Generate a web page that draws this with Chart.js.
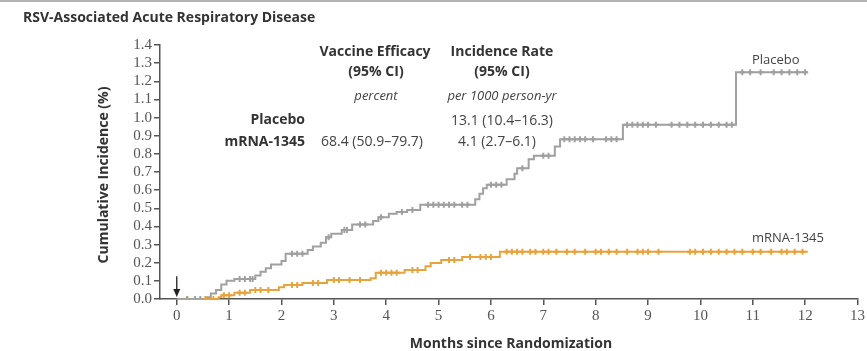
<!DOCTYPE html>
<html>
<head>
<meta charset="utf-8">
<script src="https://cdn.jsdelivr.net/npm/chart.js@4"></script>
<style>
  html, body { margin: 0; padding: 0; background: #fff; }
  #wrap { width: 867px; height: 351px; position: relative; }
</style>
</head>
<body>
<div id="wrap"><canvas id="km"></canvas></div>
<script>
/* === DATA === */
const xTicks = [0, 1, 2, 3, 4, 5, 6, 7, 8, 9, 10, 11, 12, 13];
const yTicks = [0, 0.1, 0.2, 0.3, 0.4, 0.5, 0.6, 0.7, 0.8, 0.9, 1.0, 1.1, 1.2, 1.3, 1.4];

// Kaplan-Meier style step points: month -> cumulative incidence (%)
const placeboMonths = [0, 0.55, 0.65, 0.75, 0.85, 0.95, 1.1, 1.5, 1.6, 1.7, 1.8, 2.0, 2.08, 2.5, 2.6, 2.75, 2.85, 2.95, 3.15, 3.35, 3.75, 3.85, 4.05, 4.2, 4.4, 4.65, 5.7, 5.78, 5.85, 5.92, 6.3, 6.45, 6.5, 6.72, 6.82, 7.22, 7.32, 8.52, 10.68, 12.05];
const placeboValues = [0, 0.01, 0.03, 0.05, 0.08, 0.10, 0.11, 0.13, 0.15, 0.17, 0.19, 0.21, 0.25, 0.27, 0.29, 0.31, 0.34, 0.36, 0.38, 0.41, 0.43, 0.45, 0.47, 0.48, 0.49, 0.52, 0.55, 0.58, 0.61, 0.63, 0.66, 0.69, 0.72, 0.77, 0.79, 0.84, 0.88, 0.96, 1.25, 1.25];

const vaccineMonths = [0, 0.8, 0.85, 1.1, 1.4, 1.95, 2.05, 2.4, 2.87, 3.7, 3.8, 4.35, 4.75, 4.85, 5.05, 5.45, 6.17, 12.05];
const vaccineValues = [0, 0.01, 0.02, 0.035, 0.05, 0.065, 0.077, 0.088, 0.105, 0.115, 0.145, 0.16, 0.18, 0.198, 0.215, 0.232, 0.26, 0.26];

// censoring marks (months)
const placeboCensor = [0.2, 0.35, 0.45, 1.2, 1.3, 1.4, 1.45, 2.2, 2.3, 2.4, 2.9, 3.2, 3.25, 3.5, 3.6, 3.9, 4.3, 4.5, 4.8, 4.9, 5.0, 5.1, 5.2, 5.3, 5.45, 5.55, 6.0, 6.1, 6.2, 6.6, 7.0, 7.1, 7.4, 7.5, 7.6, 7.7, 7.8, 7.95, 8.2, 8.3, 8.4, 8.6, 8.7, 8.8, 8.9, 9.0, 9.15, 9.45, 9.6, 9.75, 9.9, 10.05, 10.2, 10.35, 10.5, 10.6, 10.8, 10.95, 11.15, 11.4, 11.55, 11.7, 11.85, 12.0];
const vaccineCensor = [0.2, 0.55, 0.7, 0.9, 1.0, 1.2, 1.3, 1.5, 1.6, 1.75, 2.2, 2.3, 2.6, 2.7, 3.0, 3.1, 3.3, 3.5, 3.9, 4.0, 4.1, 4.2, 4.5, 4.6, 5.2, 5.3, 5.6, 5.8, 5.9, 6.0, 6.3, 6.4, 6.5, 6.6, 6.75, 6.85, 7.0, 7.1, 7.25, 7.45, 7.6, 7.8, 8.0, 8.1, 8.25, 8.4, 8.6, 8.8, 8.9, 9.0, 9.2, 9.8, 9.9, 10.05, 10.2, 10.35, 10.5, 10.65, 10.8, 11.0, 11.15, 11.35, 11.55, 11.65, 11.8, 11.95];

const GRAY = "#a0a0a0";
const ORANGE = "#e9a33c";
const AXIS = "#555";

/* === HELPERS === */
function toPoints(xs, ys) {
    return xs.map((x, i) => ({ x: x, y: ys[i] }));
}

// y of the step curve at month t (censor marks sit on the curve)
function stepValue(xs, ys, t) {
    let v = ys[0];
    for (let i = 0; i < xs.length; i++) {
        if (xs[i] <= t) v = ys[i];
    }
    return v;
}

function censorPoints(times, xs, ys) {
    return times.map(t => ({ x: t, y: stepValue(xs, ys, t) }));
}

/* === TEXT / DECORATION PLUGIN === */
const annotations = {
    id: "annotations",
    afterDraw(chart) {
        const ctx = chart.ctx;
        const xs = chart.scales.x;
        const ys = chart.scales.y;
        ctx.save();

        // thin rule at the very top
        ctx.fillStyle = "#b4b4b4";
        ctx.fillRect(0, 0, chart.width, 2);

        ctx.fillStyle = "#333";
        ctx.textBaseline = "middle";

        // title
        ctx.textAlign = "left";
        ctx.font = "bold 14px 'Open Sans'";
        ctx.fillText("RSV-Associated Acute Respiratory Disease", 23, 18);

        // column headers
        ctx.textAlign = "center";
        ctx.font = "bold 14px 'Open Sans'";
        ctx.fillText("Vaccine Efficacy", 375, 52);
        ctx.fillText("(95% CI)", 376, 72);
        ctx.fillText("Incidence Rate", 502, 52);
        ctx.fillText("(95% CI)", 502, 72);

        ctx.font = "italic 13px 'Open Sans'";
        ctx.fillStyle = "#444";
        ctx.fillText("percent", 376, 96);
        ctx.fillText("per 1000 person-yr", 502, 96);

        // row labels
        ctx.fillStyle = "#333";
        ctx.textAlign = "right";
        ctx.font = "bold 14px 'Open Sans'";
        ctx.fillText("Placebo", 305, 120);
        ctx.fillText("mRNA-1345", 305, 142);

        // values
        ctx.fillStyle = "#444";
        ctx.font = "14px 'Open Sans'";
        ctx.textAlign = "center";
        ctx.fillText("68.4 (50.9\u201379.7)", 372, 142);
        ctx.fillText("13.1 (10.4\u201316.3)", 502, 121);
        ctx.fillText("4.1 (2.7\u20136.1)", 497, 142);

        // curve labels
        ctx.font = "13px 'Open Sans'";
        ctx.textAlign = "left";
        ctx.fillText("Placebo", 752, 60);
        ctx.fillText("mRNA-1345", 752, 238);

        // axis titles
        ctx.fillStyle = "#333";
        ctx.font = "bold 14px 'Open Sans'";
        ctx.textAlign = "center";
        ctx.fillText("Months since Randomization", 511, 344);
        ctx.save();
        ctx.translate(104, 175);
        ctx.rotate(-Math.PI / 2);
        ctx.fillText("Cumulative Incidence (%)", 0, 0);
        ctx.restore();

        // randomization arrow at month 0
        const ax = xs.getPixelForValue(0);
        const top = ys.getPixelForValue(0.125);
        const tip = ys.getPixelForValue(0) - 2;
        ctx.strokeStyle = "#222";
        ctx.lineWidth = 1.3;
        ctx.beginPath();
        ctx.moveTo(ax, top);
        ctx.lineTo(ax, tip - 6);
        ctx.stroke();
        ctx.fillStyle = "#222";
        ctx.beginPath();
        ctx.moveTo(ax - 3.5, tip - 8);
        ctx.lineTo(ax + 3.5, tip - 8);
        ctx.lineTo(ax, tip);
        ctx.closePath();
        ctx.fill();

        ctx.restore();
    }
};

/* === CHART === */
const tickFont = { family: "'Liberation Serif'", size: 15 };

new Chart(document.getElementById("km"), {
    type: "line",
    data: {
        datasets: [
            {
                label: "Placebo censored",
                type: "scatter",
                data: censorPoints(placeboCensor, placeboMonths, placeboValues),
                pointStyle: "cross",
                pointRadius: 3,
                borderColor: GRAY,
                borderWidth: 2,
                showLine: false,
            },
            {
                label: "mRNA-1345 censored",
                type: "scatter",
                data: censorPoints(vaccineCensor, vaccineMonths, vaccineValues),
                pointStyle: "cross",
                pointRadius: 3,
                borderColor: ORANGE,
                borderWidth: 2,
                showLine: false,
            },
            {
                label: "Placebo",
                data: toPoints(placeboMonths, placeboValues),
                stepped: true,
                borderColor: GRAY,
                borderWidth: 2,
                pointRadius: 0,
                fill: false,
            },
            {
                label: "mRNA-1345",
                data: toPoints(vaccineMonths, vaccineValues),
                stepped: true,
                borderColor: ORANGE,
                borderWidth: 2,
                pointRadius: 0,
                fill: false,
            },
        ],
    },
    options: {
        responsive: true,
        maintainAspectRatio: false,
        animation: false,
        layout: { padding: { top: 45, left: 0, right: 6, bottom: 0 } },
        plugins: {
            legend: { display: false },
            tooltip: { enabled: false },
        },
        scales: {
            x: {
                type: "linear",
                min: -0.32,
                max: 13,
                afterBuildTicks: s => { s.ticks = xTicks.map(v => ({ value: v })); },
                afterFit: s => { s.height = 52; },
                ticks: { font: tickFont, color: "#555", padding: 2, maxRotation: 0, autoSkip: false },
                grid: { drawOnChartArea: false, drawTicks: true, tickLength: 6, color: AXIS, lineWidth: 1.5 },
                border: { display: true, color: AXIS, width: 1.5 },
            },
            y: {
                min: 0,
                max: 1.4,
                afterBuildTicks: s => { s.ticks = yTicks.map(v => ({ value: v })); },
                afterFit: s => { s.width = 160; },
                ticks: { font: tickFont, color: "#555", padding: 2, autoSkip: false, callback: v => v.toFixed(1) },
                grid: { drawOnChartArea: false, drawTicks: true, tickLength: 6, color: AXIS, lineWidth: 1.5 },
                border: { display: true, color: AXIS, width: 1.5 },
            },
        },
    },
    plugins: [annotations],
});
</script>
</body>
</html>
